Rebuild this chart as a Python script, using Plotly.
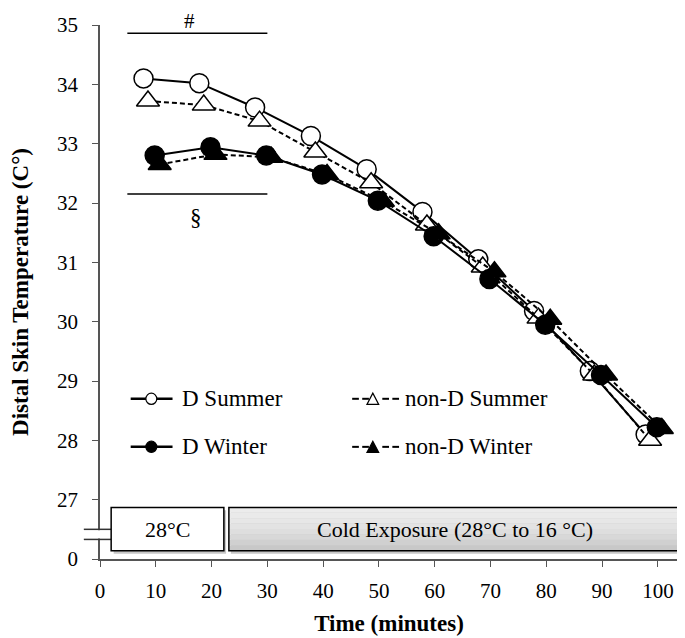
import plotly.graph_objects as go

# ---- data ----
times = [10, 20, 30, 40, 50, 60, 70, 80, 90, 100]
d_summer = [34.10, 34.02, 33.61, 33.13, 32.57, 31.85, 31.05, 30.18, 29.17, 28.10]
nond_summer = [33.72, 33.65, 33.38, 32.86, 32.34, 31.63, 30.92, 30.06, 29.10, 28.00]
d_winter = [32.80, 32.94, 32.80, 32.48, 32.04, 31.44, 30.72, 29.95, 29.10, 28.22]
nond_winter = [32.65, 32.82, 32.77, 32.48, 32.03, 31.48, 30.84, 30.04, 29.10, 28.20]
sem_d_summer = [0.07] * 10
sem_nond_summer = [0.07] * 10
sem_d_winter = [0.09] * 10
sem_nond_winter = [0.09] * 10

y_tickvals = [26, 27, 28, 29, 30, 31, 32, 33, 34, 35]
y_ticktext = ["0", "27", "28", "29", "30", "31", "32", "33", "34", "35"]
x_tickvals = [0, 10, 20, 30, 40, 50, 60, 70, 80, 90, 100]

FONT = "Liberation Serif"
XMAX = 103.6
YMIN, YMAX = 26, 35

def px(v):
    return v / XMAX

def py(v):
    return (v - YMIN) / (YMAX - YMIN)

series = [
    ("D Summer", d_summer, sem_d_summer, -2.2, "circle", "white", "solid"),
    ("non-D Summer", nond_summer, sem_nond_summer, -1.4, "triangle-up", "white", "5px,3px"),
    ("D Winter", d_winter, sem_d_winter, -0.2, "circle", "black", "solid"),
    ("non-D Winter", nond_winter, sem_nond_winter, 0.7, "triangle-up", "black", "5px,3px"),
]

fig = go.Figure()
for name, vals, err, off, sym, fill, dash in series:
    fig.add_trace(go.Scatter(
        x=[t + off for t in times], y=vals, name=name, mode="lines+markers",
        line=dict(color="black", width=2, dash=dash),
        marker=dict(symbol=sym, size=19 if sym == "circle" else 20, color=fill,
                    line=dict(color="black", width=1.5)),
        error_y=dict(type="data", array=err, color="#888888", thickness=1, width=0),
        showlegend=False, cliponaxis=False,
    ))

shapes = []
def rect(x0, x1, y0, y1, fill, lc=None, lw=0):
    shapes.append(dict(type="rect", xref="paper", yref="y", x0=px(x0), x1=px(x1), y0=y0, y1=y1,
                       fillcolor=fill, line=dict(color=lc or "rgba(0,0,0,0)", width=lw), layer="above"))

def hline(x0, x1, y, w=1.5, color="black", dash="solid"):
    shapes.append(dict(type="line", xref="paper", yref="y", x0=px(x0), x1=px(x1), y0=y, y1=y,
                       line=dict(color=color, width=w, dash=dash), layer="above"))

# y-axis break: white gap + two break lines
shapes.append(dict(type="rect", xref="paper", yref="y", x0=-0.02, x1=0.012, y0=26.345, y1=26.485,
                   fillcolor="white", line=dict(width=0), layer="above"))
hline(-2.9, 2.0, 26.50, 1.5, "#333333")
hline(-2.9, 2.0, 26.33, 1.5, "#333333")

# shadows
rect(2.45, 22.6, 26.09, 26.82, "rgba(0,0,0,0.22)")
rect(23.45, 104.6, 26.09, 26.82, "rgba(0,0,0,0.22)")
# 28C box
rect(2.0, 22.2, 26.14, 26.87, "white", "black", 1.5)
# cold exposure box with vertical gradient
y_bot, y_top = 26.14, 26.87
grays = ["#c8c8c8", "#d0d0d0", "#d8d8d8", "#dedede", "#e3e3e3", "#e7e7e7", "#eaeaea", "#ececec"]
n = len(grays)
for i, g in enumerate(grays):
    rect(23.1, 104.2, y_bot + (y_top - y_bot) * i / n, y_bot + (y_top - y_bot) * (i + 1) / n, g)
rect(23.1, 104.2, y_bot, y_top, "rgba(0,0,0,0)", "black", 1.5)

# significance lines
hline(4.9, 30.0, 34.86, 1.5)
hline(4.9, 30.0, 32.15, 1.5)

# legend glyphs (drawn like the original text-style keys)
ROW1, ROW2 = 28.70, 27.89
for row, fill in ((ROW1, "white"), (ROW2, "black")):
    hline(5.5, 13.0, row, 2.5)
    cx, rx, ry = 9.2, 0.98, 0.095
    shapes.append(dict(type="circle", xref="paper", yref="y", x0=px(cx - rx), x1=px(cx + rx),
                       y0=row - ry, y1=row + ry, fillcolor=fill, line=dict(color="black", width=1.2),
                       layer="above"))
    for a, b in ((45.2, 46.4), (47.0, 48.2), (50.6, 51.8), (52.4, 53.6)):
        hline(a, b, row, 2)
    tx, hw, h = 48.9, 1.05, 0.19
    path = (f"M {px(tx - hw)},{row - h/2} L {px(tx + hw)},{row - h/2} L {px(tx)},{row + h/2} Z")
    shapes.append(dict(type="path", xref="paper", yref="y", path=path, fillcolor=fill,
                       line=dict(color="black", width=1.2), layer="above"))

ann = []
def text(x, y, t, size=22, anchor="center", yref="y"):
    ann.append(dict(x=x, y=y, xref="x", yref=yref, text=t, showarrow=False, xanchor=anchor,
                    yanchor="middle", borderpad=0,
                    font=dict(family=FONT, size=size, color="black")))

text(16.1, py(35.07), "#", 21, yref="paper")
text(17.2, 31.75, "§", 23)
text(12.1, 26.505, "28°C", 22)
text(63.6, 26.505, "Cold Exposure (28°C to 16 °C)", 22)
text(14.6, ROW1, "D Summer", 23, "left")
text(54.4, ROW1, "non-D Summer", 23, "left")
text(14.6, ROW2, "D Winter", 23, "left")
text(54.4, ROW2, "non-D Winter", 23, "left")

# page has an 8px body margin; offset margins so the plot area lands where the original's does
fig.update_layout(
    width=685, height=638,
    margin=dict(l=92, r=15, t=17, b=87, autoexpand=False),
    paper_bgcolor="white", plot_bgcolor="white",
    shapes=shapes, annotations=ann,
    font=dict(family=FONT, color="black"),
)
fig.update_xaxes(
    range=[0, XMAX], tickvals=x_tickvals, ticks="outside", ticklen=6, tickcolor="#555555",
    showline=True, linecolor="#555555", linewidth=1.5, showgrid=False, zeroline=False,
    automargin=False, ticklabelstandoff=6,
    tickfont=dict(family=FONT, size=21, color="black"),
    title=dict(text="<b>Time (minutes)</b>", font=dict(family=FONT, size=23, color="black"), standoff=13),
)
fig.update_yaxes(
    range=[YMIN, YMAX], tickvals=y_tickvals, ticktext=y_ticktext, ticks="outside", ticklen=6,
    tickcolor="#555555", showline=True, linecolor="#555555", linewidth=1.5, showgrid=False,
    zeroline=False, automargin=False, ticklabelstandoff=10,
    tickfont=dict(family=FONT, size=21, color="black"),
    title=dict(text="<b>Distal Skin Temperature (C°)</b>", font=dict(family=FONT, size=23, color="black"),
               standoff=28),
)

fig.write_html("out.html")
